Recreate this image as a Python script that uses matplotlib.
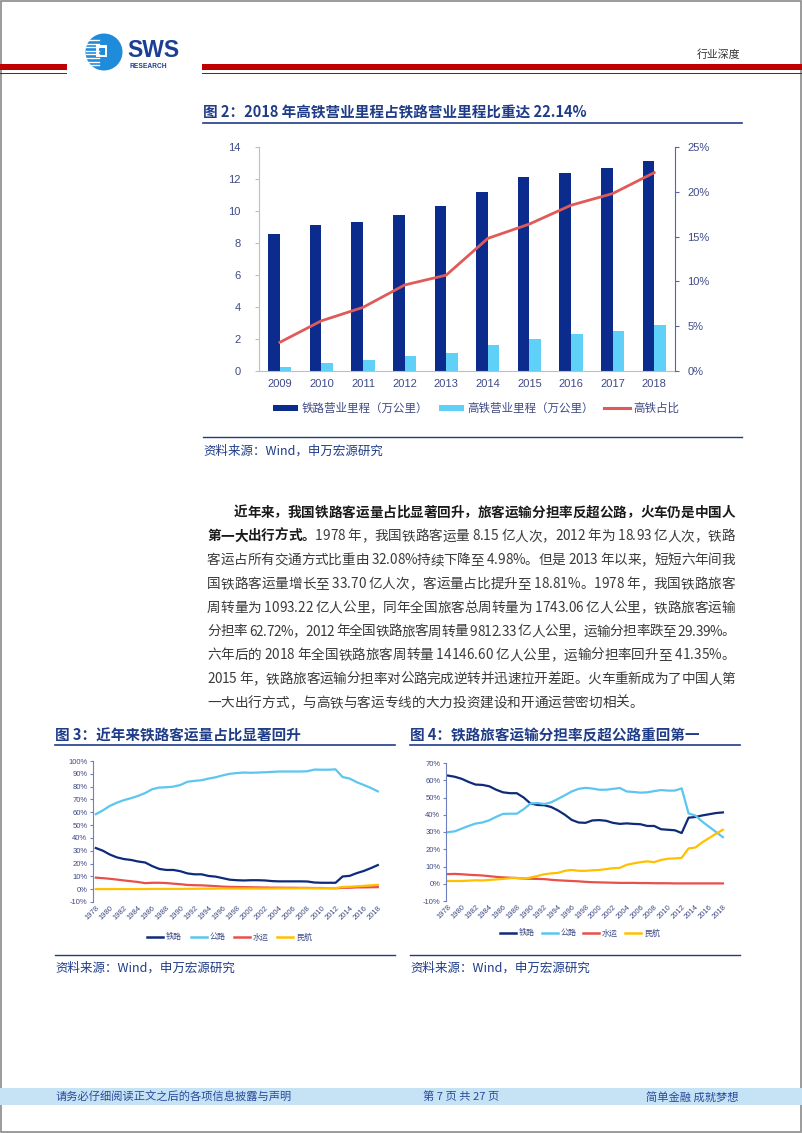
import matplotlib
matplotlib.use('Agg')
import matplotlib.pyplot as plt
import numpy as np
from matplotlib.font_manager import FontProperties
from matplotlib.patches import Rectangle, Circle

CJK = 'Noto Sans CJK SC'
plt.rcParams['font.family'] = ['Liberation Sans', CJK, 'DejaVu Sans']

W, H = 802, 1133
NAVY = '#1F3C88'
TICK = '#3f4a85'

# ---- data: figure 2 (mileage) ----
years2 = ['2009', '2010', '2011', '2012', '2013', '2014', '2015', '2016', '2017', '2018']
rail_km = [8.55, 9.12, 9.32, 9.76, 10.31, 11.18, 12.10, 12.40, 12.70, 13.10]
hsr_km = [0.27, 0.51, 0.66, 0.94, 1.10, 1.65, 1.98, 2.29, 2.52, 2.90]
hsr_share = [3.2, 5.6, 7.1, 9.6, 10.7, 14.8, 16.4, 18.5, 19.8, 22.14]

# ---- data: figure 3 (passenger volume share, %) ----
years = list(range(1978, 2019))
rail_vol = [32.1, 30.0, 27.0, 24.8, 23.5, 22.8, 21.6, 20.8, 18.0, 15.8,
            15.0, 15.0, 14.0, 12.3, 11.6, 11.6, 10.3, 9.8, 8.6, 7.4,
            7.0, 6.8, 7.0, 7.0, 6.8, 6.3, 6.1, 6.1, 6.1, 6.1,
            6.0, 5.2, 5.0, 5.0, 4.98, 9.9, 10.4, 12.5, 14.2, 16.4, 18.81]
road_vol = [58.5, 61.5, 65.0, 67.5, 69.5, 71.0, 72.8, 75.0, 78.0, 79.3,
            79.5, 80.0, 81.3, 83.8, 84.5, 85.0, 86.3, 87.3, 88.8, 90.0,
            90.6, 91.0, 90.8, 91.0, 91.2, 91.5, 91.8, 91.8, 91.8, 91.8,
            92.0, 93.3, 93.2, 93.2, 93.5, 87.5, 86.3, 83.5, 81.3, 79.0, 76.3]
water_vol = [9.0, 8.6, 8.1, 7.5, 6.8, 6.2, 5.6, 4.7, 5.0, 5.0,
             4.8, 4.3, 3.9, 3.3, 3.1, 3.0, 2.7, 2.4, 2.0, 1.8,
             1.7, 1.6, 1.5, 1.4, 1.3, 1.2, 1.2, 1.1, 1.1, 1.0,
             1.0, 0.9, 0.9, 0.8, 0.7, 1.1, 1.1, 1.4, 1.4, 1.5, 1.6]
air_vol = [0.1, 0.1, 0.1, 0.1, 0.1, 0.1, 0.1, 0.1, 0.2, 0.2,
           0.2, 0.2, 0.2, 0.3, 0.3, 0.4, 0.4, 0.4, 0.5, 0.5,
           0.5, 0.5, 0.5, 0.5, 0.5, 0.5, 0.6, 0.6, 0.6, 0.7,
           0.7, 0.7, 0.7, 0.8, 0.8, 1.7, 1.9, 2.2, 2.6, 3.0, 3.4]

# ---- data: figure 4 (passenger-km share, %) ----
rail_pkm = [62.7, 62.0, 60.8, 59.0, 57.5, 57.3, 56.5, 54.5, 53.0, 52.5,
            52.5, 50.0, 46.5, 45.7, 45.5, 44.5, 42.5, 40.0, 37.0, 35.5,
            35.3, 36.7, 36.9, 36.5, 35.3, 34.7, 35.0, 34.7, 34.5, 33.5,
            33.5, 31.6, 31.3, 31.0, 29.39, 38.3, 38.7, 39.6, 40.3, 41.0, 41.35]
road_pkm = [29.9, 30.4, 32.0, 33.5, 34.9, 35.5, 36.8, 38.8, 40.5, 40.6,
            40.6, 43.2, 46.5, 46.8, 46.2, 47.2, 49.2, 51.3, 53.5, 55.0,
            55.6, 55.2, 54.5, 54.5, 55.0, 55.5, 53.5, 53.2, 52.8, 53.0,
            53.7, 54.3, 54.0, 54.0, 55.3, 40.8, 39.5, 36.0, 33.0, 30.0, 27.0]
water_pkm = [5.6, 5.7, 5.5, 5.2, 5.0, 4.8, 4.4, 4.0, 3.7, 3.5,
             3.3, 3.0, 2.9, 2.8, 2.7, 2.3, 2.0, 1.8, 1.6, 1.4,
             1.1, 0.9, 0.8, 0.7, 0.6, 0.5, 0.5, 0.5, 0.4, 0.4,
             0.3, 0.3, 0.3, 0.2, 0.2, 0.2, 0.2, 0.2, 0.2, 0.2, 0.2]
air_pkm = [1.6, 1.6, 1.6, 1.8, 2.0, 1.9, 2.2, 2.5, 2.8, 3.2,
           3.4, 3.0, 3.6, 4.5, 5.5, 6.0, 6.3, 7.5, 8.0, 7.5,
           7.5, 7.8, 8.0, 8.5, 9.0, 9.2, 11.0, 11.8, 12.5, 13.0,
           12.5, 13.8, 14.5, 14.7, 15.0, 20.5, 21.0, 24.0, 26.5, 29.0, 31.3]

mode_names = ['铁路', '公路', '水运', '民航']
mode_colors = ['#0E2A7B', '#5BC6F0', '#E8504A', '#FFC000']

para = [
    [('近年来，我国铁路客运量占比显著回升，旅客运输分担率反超公路，火车仍是中国人', True)],
    [('第一大出行方式。', True), ('1978 年，我国铁路客运量 8.15 亿人次，2012 年为 18.93 亿人次，铁路', False)],
    [('客运占所有交通方式比重由 32.08%持续下降至 4.98%。但是 2013 年以来，短短六年间我', False)],
    [('国铁路客运量增长至 33.70 亿人次，客运量占比提升至 18.81%。1978 年，我国铁路旅客', False)],
    [('周转量为 1093.22 亿人公里，同年全国旅客总周转量为 1743.06 亿人公里，铁路旅客运输', False)],
    [('分担率 62.72%，2012 年全国铁路旅客周转量 9812.33 亿人公里，运输分担率跌至 29.39%。', False)],
    [('六年后的 2018 年全国铁路旅客周转量 14146.60 亿人公里，运输分担率回升至 41.35%。', False)],
    [('2015 年，铁路旅客运输分担率对公路完成逆转并迅速拉开差距。火车重新成为了中国人第', False)],
    [('一大出行方式，与高铁与客运专线的大力投资建设和开通运营密切相关。', False)],
]

fig = plt.figure(figsize=(W / 100, H / 100), dpi=100)

# page layer in pixel coordinates
page = fig.add_axes([0, 0, 1, 1])
page.set_xlim(0, W)
page.set_ylim(H, 0)
page.axis('off')


def px_axes(l, t, r, b):
    return fig.add_axes([l / W, 1 - b / H, (r - l) / W, (b - t) / H])


# border and header
page.add_patch(Rectangle((0.8, 0.8), W - 1.6, H - 1.6, fill=False, ec='#8a8a8a', lw=1.2))
for x0, x1 in [(0, 67), (202, W)]:
    page.add_patch(Rectangle((x0, 64), x1 - x0, 6, color='#C00000', lw=0))
    page.add_patch(Rectangle((x0, 72.5), x1 - x0, 1.6, color='#C00000', lw=0))
page.add_patch(Circle((104, 52), 18.5, color='#1E8BDB', lw=0))
for yy in np.arange(40, 66, 3.6):
    page.plot([86, 99], [yy, yy], color='white', lw=1.0)
page.add_patch(Rectangle((96, 45), 11, 12, fc='white', ec='white', lw=0))
page.add_patch(Rectangle((98.5, 47.5), 6, 7, fc='#1E8BDB', lw=0))
page.text(127, 57, 'SWS', fontsize=16.5, weight='bold', color='#1B3F94', va='baseline', ha='left')
page.text(130, 67, 'RESEARCH', fontsize=4.8, weight='bold', color='#1B3F94', va='center', ha='left')
page.text(697, 55, '行业深度', fontsize=7.8, color='#333333', va='center', ha='left', family=[CJK])

# ---- figure 2 ----
page.text(203, 112, '图 2：2018 年高铁营业里程占铁路营业里程比重达 22.14%', fontsize=10.5,
          weight='bold', color=NAVY, va='center', ha='left', family=[CJK])
page.plot([203, 742], [122.5, 122.5], color=NAVY, lw=1.2)

ax = px_axes(259, 147, 675, 371)
x = np.arange(len(years2))
bw = 0.28
ax.bar(x - bw / 2, rail_km, bw, color='#0B2C8C', zorder=2)
ax.bar(x + bw / 2, hsr_km, bw, color='#5FD0F8', zorder=2)
ax.set_xlim(-0.5, len(years2) - 0.5)
ax.set_ylim(0, 14)
ax.set_yticks(range(0, 15, 2))
ax.set_xticks(x)
ax.set_xticklabels(years2)
ax.tick_params(axis='x', length=0, pad=6, labelsize=8, labelcolor=TICK)
ax.tick_params(axis='y', length=3, color='#bfbfbf', pad=10, labelsize=8, labelcolor=TICK)
for s in ['top', 'right']:
    ax.spines[s].set_visible(False)
ax.spines['left'].set_color('#bfbfbf')
ax.spines['bottom'].set_color('#bfbfbf')
ax.patch.set_alpha(0)

ax2 = ax.twinx()
ax2.plot(x, hsr_share, color='#E05A5A', lw=2, zorder=3)
ax2.set_ylim(0, 25)
ax2.set_yticks(range(0, 26, 5))
ax2.set_yticklabels([f'{v}%' for v in range(0, 26, 5)])
ax2.tick_params(axis='y', length=3, color='#5566aa', pad=6, labelsize=8, labelcolor=TICK)
for s in ['top', 'left', 'bottom']:
    ax2.spines[s].set_visible(False)
ax2.spines['right'].set_color('#5566aa')

# legend of figure 2
page.add_patch(Rectangle((273, 405), 25, 6, color='#0B2C8C', lw=0))
page.text(302, 408.5, '铁路营业里程（万公里）', fontsize=8.3, color=TICK, va='center', family=[CJK])
page.add_patch(Rectangle((439, 405), 25, 6, color='#5FD0F8', lw=0))
page.text(467, 408.5, '高铁营业里程（万公里）', fontsize=8.3, color=TICK, va='center', family=[CJK])
page.plot([604, 630], [408, 408], color='#E05A5A', lw=2.2)
page.text(633, 408.5, '高铁占比', fontsize=8.3, color=TICK, va='center', family=[CJK])

page.plot([203, 742], [437, 437], color=NAVY, lw=1.0)
page.text(203, 451, '资料来源：Wind，申万宏源研究', fontsize=9, color=NAVY, va='center', family=[CJK])

# ---- paragraph, justified char by char ----
renderer = fig.canvas.get_renderer()
fp_reg = FontProperties(family=[CJK], size=9.8)
fp_bold = FontProperties(family=[CJK], size=9.8, weight='bold')


def advance(ch, fp):
    w1 = renderer.get_text_width_height_descent('中' + ch + '中', fp, ismath=False)[0]
    w0 = renderer.get_text_width_height_descent('中中', fp, ismath=False)[0]
    return w1 - w0


left, right = 207, 735
for i, line in enumerate(para):
    chars = [(c, b) for seg, b in line for c in seg]
    widths = [advance(c, fp_bold if b else fp_reg) for c, b in chars]
    start = left + (26.5 if i == 0 else 0)
    last = i == len(para) - 1
    extra = 0 if last else (right - start - sum(widths)) / (len(chars) - 1)
    base = 511.5 + 23.8 * i + 5
    xx = start
    for (c, b), w in zip(chars, widths):
        page.text(xx + w / 2, base, c, fontproperties=fp_bold if b else fp_reg,
                  color='#1a1a1a' if b else '#3a3a3a', ha='center', va='baseline')
        xx += w + extra


# ---- figures 3 and 4 ----
def share_chart(box, title_x, rule_x1, title, series, ylim, xlim, legend_x, legend_y):
    page.text(title_x, 735, title, fontsize=10.5, weight='bold', color=NAVY,
              va='center', ha='left', family=[CJK])
    page.plot([title_x, rule_x1], [745, 745], color=NAVY, lw=1.2)
    a = px_axes(*box)
    for vals, col in zip(series, mode_colors):
        a.plot(years, vals, color=col, lw=1.6)
    a.set_xlim(*xlim)
    a.set_ylim(*ylim)
    yt = list(range(ylim[0], ylim[1] + 1, 10))
    a.set_yticks(yt)
    a.set_yticklabels([f'{v}%' for v in yt])
    a.set_xticks(years[::2])
    a.set_xticklabels([str(y) for y in years[::2]], rotation=45, ha='right',
                      rotation_mode='anchor')
    a.tick_params(axis='x', length=0, pad=2, labelsize=5.5, labelcolor=TICK)
    a.tick_params(axis='y', length=2, color='#6f80c0', pad=2, labelsize=5.5, labelcolor=TICK)
    for s in ['top', 'right', 'bottom']:
        a.spines[s].set_visible(False)
    a.spines['left'].set_color('#6f80c0')
    a.patch.set_alpha(0)
    for k, (name, col) in enumerate(zip(mode_names, mode_colors)):
        lx = legend_x[k]
        page.plot([lx, lx + 16], [legend_y, legend_y], color=col, lw=1.8)
        page.text(lx + 19, legend_y, name, fontsize=5.8, color=TICK, va='center', family=[CJK])
    page.plot([title_x, rule_x1], [955, 955], color=NAVY, lw=1.0)
    page.text(title_x, 968.5, '资料来源：Wind，申万宏源研究', fontsize=9, color=NAVY,
              va='center', family=[CJK])


share_chart((93, 761, 381, 902), 55, 395, '图 3：近年来铁路客运量占比显著回升',
            [rail_vol, road_vol, water_vol, air_vol], (-10, 100), (1977.6, 2018.45),
            [147, 191, 234, 277], 937)
share_chart((446, 763, 726, 901), 410, 740, '图 4：铁路旅客运输分担率反超公路重回第一',
            [rail_pkm, road_pkm, water_pkm, air_pkm], (-10, 70), (1977.7, 2018.45),
            [500, 542, 583, 625], 933)

# footer
page.add_patch(Rectangle((0, 1088), W, 17, color='#C6E3F6', lw=0))
page.text(55, 1097, '请务必仔细阅读正文之后的各项信息披露与声明', fontsize=8.1, color='#2A4A9B',
          va='center', family=[CJK])
page.text(461, 1097, '第 7 页 共 27 页', fontsize=8.1, color='#2A4A9B', va='center', ha='center',
          family=[CJK])
page.text(739, 1097, '简单金融 成就梦想', fontsize=8.1, color='#2A4A9B', va='center', ha='right',
          family=[CJK])

fig.savefig('out.png', dpi=100)
